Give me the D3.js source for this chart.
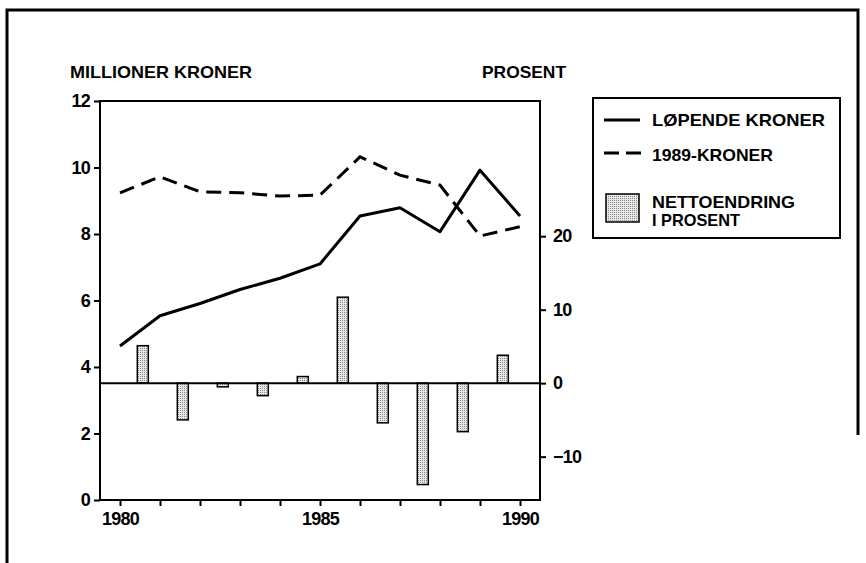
<!DOCTYPE html>
<html><head><meta charset="utf-8">
<script src="https://cdn.jsdelivr.net/npm/d3@7"></script>
<style>
body{margin:0;background:#fff;}
svg text{font-family:"Liberation Sans",Arial,sans-serif;font-weight:bold;fill:#000;}
</style></head>
<body><svg id="c" width="866" height="563"></svg>
<script>
// ---- data ----
const years = [1980,1981,1982,1983,1984,1985,1986,1987,1988,1989,1990];
const lopendeKroner = [4.63,5.54,5.91,6.33,6.67,7.10,8.54,8.79,8.07,9.92,8.54];
const kroner1989 = [9.24,9.72,9.27,9.24,9.14,9.17,10.32,9.77,9.47,7.94,8.22];
const barYears = [1980,1981,1982,1983,1984,1985,1986,1987,1988,1989]; // bar drawn after each year
const nettoendring = [5.1,-5.0,-0.5,-1.7,0.9,11.7,-5.4,-13.8,-6.6,3.8];
const leftTicks = [0,2,4,6,8,10,12];
const rightTicks = [-10,0,10,20];
const xLabelYears = [1980,1985,1990];
const legendLabels = ["LØPENDE KRONER","1989-KRONER","NETTOENDRING","I PROSENT"];

const svg = d3.select("#c");
const x = d3.scaleLinear().domain([1979.5,1990.5]).range([100,540]);
const yL = d3.scaleLinear().domain([0,12]).range([500,101]);
const yR = d3.scaleLinear().domain([-15.9,38.4]).range([500,101]);

// pattern for stippled bars
const defs = svg.append("defs");
const pat = defs.append("pattern").attr("id","stip").attr("width",2).attr("height",2)
  .attr("patternUnits","userSpaceOnUse");
pat.append("rect").attr("width",2).attr("height",2).attr("fill","#e8e8e8");
pat.append("rect").attr("width",1).attr("height",1).attr("fill","#888");

// outer frame
svg.append("path").attr("d","M7,563V10H858V435").attr("fill","none").attr("stroke","#000").attr("stroke-width",3);

// titles
svg.append("text").attr("x",70).attr("y",78).attr("font-size",16.5).attr("textLength",182)
  .attr("lengthAdjust","spacingAndGlyphs").text("MILLIONER KRONER");
svg.append("text").attr("x",482).attr("y",78).attr("font-size",16.5).attr("textLength",84)
  .attr("lengthAdjust","spacingAndGlyphs").text("PROSENT");

// bars
const bw = 11;
svg.append("g").selectAll("rect").data(barYears).join("rect")
  .attr("x",(d)=>x(d+0.57)-bw/2)
  .attr("width",bw)
  .attr("y",(d,i)=>yR(Math.max(0,nettoendring[i])))
  .attr("height",(d,i)=>Math.abs(yR(nettoendring[i])-yR(0)))
  .attr("fill","url(#stip)").attr("stroke","#000").attr("stroke-width",1.5);

// zero line
svg.append("line").attr("x1",x.range()[0]).attr("x2",x.range()[1])
  .attr("y1",yR(0)).attr("y2",yR(0)).attr("stroke","#000").attr("stroke-width",2);

// plot box
svg.append("rect").attr("x",x.range()[0]).attr("y",yL.range()[1])
  .attr("width",x.range()[1]-x.range()[0]).attr("height",yL.range()[0]-yL.range()[1])
  .attr("fill","none").attr("stroke","#000").attr("stroke-width",2);

// lines
const line = d3.line().x((d,i)=>x(years[i])).y(d=>yL(d));
svg.append("path").datum(lopendeKroner).attr("d",line).attr("fill","none")
  .attr("stroke","#000").attr("stroke-width",3).attr("stroke-linejoin","round");
svg.append("path").datum(kroner1989).attr("d",line).attr("fill","none")
  .attr("stroke","#000").attr("stroke-width",3).attr("stroke-dasharray","15,8");

// axes
const axL = svg.append("g").attr("transform",`translate(${x.range()[0]},0)`)
  .call(d3.axisLeft(yL).tickValues(leftTicks).tickSize(6).tickPadding(4).tickSizeOuter(0));
const axR = svg.append("g").attr("transform",`translate(${x.range()[1]},0)`)
  .call(d3.axisRight(yR).tickValues(rightTicks).tickSize(6).tickPadding(7).tickSizeOuter(0));
const axB = svg.append("g").attr("transform",`translate(0,${yL.range()[0]})`)
  .call(d3.axisBottom(x).tickValues(years).tickSize(6).tickPadding(6).tickSizeOuter(0)
    .tickFormat(d=>xLabelYears.includes(d)?String(d):""));
[axL,axR,axB].forEach(a=>{
  a.attr("font-size",18);
  a.select(".domain").remove();
  a.selectAll(".tick line").attr("stroke","#000").attr("stroke-width",2);
  a.selectAll("text").style("font-size","18px").attr("font-family","Liberation Sans, Arial, sans-serif")
    .attr("font-weight","bold").attr("fill","#000").attr("letter-spacing",-0.8);
});

// legend
const lg = svg.append("g");
lg.append("rect").attr("x",593).attr("y",98).attr("width",247).attr("height",140)
  .attr("fill","#fff").attr("stroke","#000").attr("stroke-width",2);
lg.append("line").attr("x1",604).attr("x2",640).attr("y1",120).attr("y2",120)
  .attr("stroke","#000").attr("stroke-width",3);
lg.append("line").attr("x1",604).attr("x2",641).attr("y1",153).attr("y2",153)
  .attr("stroke","#000").attr("stroke-width",3).attr("stroke-dasharray","15,7");
lg.append("rect").attr("x",606).attr("y",194).attr("width",33).attr("height",28)
  .attr("fill","url(#stip)").attr("stroke","#000").attr("stroke-width",1.5);
const lgPos = [[652,126,173],[652,161,121],[652,208,143],[652,226,88]];
lg.selectAll("text").data(legendLabels).join("text")
  .attr("x",(d,i)=>lgPos[i][0]).attr("y",(d,i)=>lgPos[i][1])
  .attr("textLength",(d,i)=>lgPos[i][2]).attr("lengthAdjust","spacingAndGlyphs")
  .attr("font-size",17).text(d=>d);
</script></body></html>
